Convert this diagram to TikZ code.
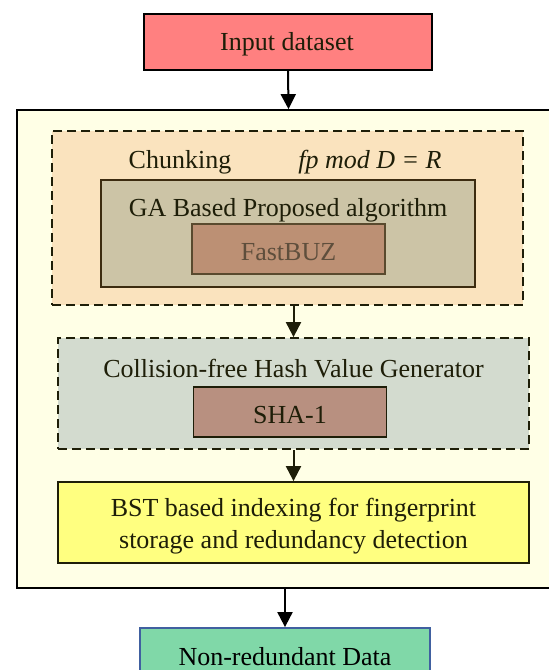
\documentclass[tikz,border=0pt]{standalone}
\usepackage{fontspec}
\setmainfont{Liberation Serif}
\usetikzlibrary{arrows.meta}
\definecolor{inputc}{HTML}{FF8080}
\definecolor{outerc}{HTML}{FFFFE6}
\definecolor{chunkc}{HTML}{FAE3BE}
\definecolor{gac}{HTML}{CCC4A6}
\definecolor{gab}{HTML}{3C2C10}
\definecolor{fastc}{HTML}{BC9074}
\definecolor{fastt}{HTML}{5E4E3C}
\definecolor{collc}{HTML}{D3DBCF}
\definecolor{shac}{HTML}{B89080}
\definecolor{bstc}{HTML}{FFFF80}
\definecolor{nonc}{HTML}{80D8A8}
\definecolor{nonb}{HTML}{4060A0}
\definecolor{txt}{HTML}{1E1E08}
\tikzset{
  box/.style={draw, line width=1.8pt, minimum width=#1, inner sep=0pt},
  dbox/.style={draw=txt, line width=1.8pt, dash pattern=on 9pt off 5pt, inner sep=0pt},
  lbl/.style={font=\rmfamily\fontsize{26}{32}\selectfont, text=txt, inner sep=0pt},
  arr/.style={line width=2pt, -{Triangle[width=15pt,length=15pt]}},
}
\begin{document}
\begin{tikzpicture}[x=1pt,y=-1pt]
\useasboundingbox (0,0) rectangle (549,670);
\clip (0,0) rectangle (549,670);
\node[box=288pt, minimum height=56pt, fill=inputc] (input) at (288,42) {};
\node[lbl] (inputtext) at (287,44) {Input dataset};
\node[box=543pt, minimum height=478pt, fill=outerc] (outer) at (288.5,349) {};
\node[dbox, minimum width=471pt, minimum height=174pt, fill=chunkc] (chunk) at (287.5,218) {};
\node[lbl] (chunktext) at (180,162) {Chunking};
\node[lbl] (fptext) at (370,162) {\itshape fp mod D = R};
\node[box=374pt, draw=gab, minimum height=107pt, fill=gac] (ga) at (288,233.5) {};
\node[lbl] (gatext) at (288,210) {GA Based Proposed algorithm};
\node[box=193pt, draw=gab!80!gac, minimum height=50pt, fill=fastc] (fast) at (288.5,249) {};
\node[lbl, text=fastt] (fasttext) at (288.5,252) {FastBUZ};
\node[dbox, minimum width=471pt, minimum height=111pt, fill=collc] (coll) at (293.5,393.5) {};
\node[lbl] (colltext) at (293.5,369) {Collision-free Hash Value Generator};
\node[box=193pt, draw=txt, minimum height=50pt, fill=shac] (sha) at (290,412) {};
\node[lbl] (shatext) at (290,415) {SHA-1};
\node[box=471pt, draw=txt, minimum height=81pt, fill=bstc] (bst) at (293.5,522.5) {};
\node[lbl, align=center] (bsttext) at (293.5,526) {BST based indexing for fingerprint\\storage and redundancy detection};
\node[box=290pt, draw=nonb, minimum height=62pt, fill=nonc] (nonred) at (285,659) {};
\node[lbl, text=black] (nonredtext) at (285,657) {Non-redundant Data};
\draw[arr] (input.south) -- (outer.north);
\draw[arr, draw=txt] (coll.north |- chunk.south) -- (coll.north);
\draw[arr, draw=txt] (coll.south) -- (bst.north);
\draw[arr] (nonred.north |- outer.south) -- (nonred.north);
\end{tikzpicture}
\end{document}
